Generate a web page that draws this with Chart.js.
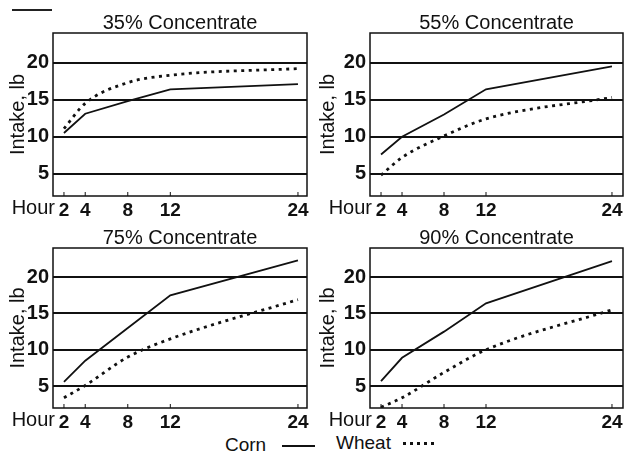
<!DOCTYPE html>
<html>
<head>
<meta charset="utf-8">
<script src="https://cdn.jsdelivr.net/npm/chart.js@4.4.1/dist/chart.umd.min.js"></script>
<style>
    html, body { margin: 0; padding: 0; background: #fff; }
    body {
        width: 624px; height: 454px; overflow: hidden; position: relative;
        font-family: "Liberation Sans", Arial, sans-serif; color: #111;
    }
    canvas { position: absolute; }
    .scrap { position: absolute; left: 12px; top: 9px; width: 40px; height: 1.5px; background: #222; }
    .key { position: absolute; font-size: 19px; line-height: 19px; }
    .solid { position: absolute; height: 1.8px; background: #111; }
    .dots {
        position: absolute; height: 3px;
        background: repeating-linear-gradient(to right, #111 0 3px, transparent 3px 7px);
    }
</style>
</head>
<body>
<div class="scrap"></div>
<canvas id="c35" width="312" height="218" style="left:0;top:0"></canvas>
<canvas id="c55" width="320" height="218" style="left:312px;top:0"></canvas>
<canvas id="c75" width="312" height="215" style="left:0;top:215px"></canvas>
<canvas id="c90" width="320" height="215" style="left:312px;top:215px"></canvas>

<span class="key" style="left:225px;top:435px">Corn</span>
<div class="solid" style="left:282px;top:445px;width:33px"></div>
<span class="key" style="left:336px;top:433px">Wheat</span>
<div class="dots" style="left:403px;top:442px;width:35px"></div>

<script>
// ---- data ----
const hours = [2, 4, 8, 12, 24];
const hourTicks = [2, 4, 8, 12, 24];
const intakeTicks = [5, 10, 15, 20];

const corn35 = [10.5, 13.1, 14.8, 16.4, 17.1];
const wheat35 = [11.1, 14.5, 17.3, 18.3, 19.2];

const corn55 = [7.6, 10.0, 13.0, 16.4, 19.5];
const wheat55 = [4.8, 7.2, 10.1, 12.4, 15.3];

const corn75 = [5.6, 8.5, 13.0, 17.5, 22.3];
const wheat75 = [3.4, 5.1, 9.0, 11.5, 16.9];

const corn90 = [5.7, 8.9, 12.5, 16.4, 22.2];
const wheat90 = [2.1, 3.4, 6.9, 10.0, 15.5];

const FONT = '"Liberation Sans", Arial, sans-serif';
const INK = "#111";

/* ------------------- frame, inner ticks, "Hour" ------------------ */
const framePlugin = {
    id: "frame",
    afterDatasetsDraw(chart) {
        const { ctx, chartArea: a, scales } = chart;
        ctx.save();
        ctx.strokeStyle = INK;
        ctx.lineWidth = 1.5;
        ctx.strokeRect(a.left, a.top, a.right - a.left, a.bottom - a.top);

        ctx.lineWidth = 1;
        hourTicks.forEach(h => {
            const x = scales.x.getPixelForValue(h);
            ctx.beginPath();
            ctx.moveTo(x, a.bottom);
            ctx.lineTo(x, a.bottom - 4);
            ctx.stroke();
        });

        ctx.fillStyle = INK;
        ctx.font = "20px " + FONT;
        ctx.textAlign = "right";
        ctx.textBaseline = "middle";
        ctx.fillText("Hour", a.left + 2, a.bottom + 12);
        ctx.restore();
    }
};

function makePanel(id, title, corn, wheat, yWidth, yTitlePad, padRight, xMin, xMax) {
    return new Chart(document.getElementById(id), {
        type: "line",
        data: {
            datasets: [
                {
                    label: "Corn",
                    data: hours.map((h, i) => ({ x: h, y: corn[i] })),
                    borderColor: INK,
                    borderWidth: 1.8,
                    pointRadius: 0,
                    tension: 0
                },
                {
                    label: "Wheat",
                    data: hours.map((h, i) => ({ x: h, y: wheat[i] })),
                    borderColor: INK,
                    borderWidth: 2.8,
                    borderDash: [3, 4.5],
                    pointRadius: 0,
                    cubicInterpolationMode: "monotone"
                }
            ]
        },
        options: {
            responsive: false,
            animation: false,
            layout: { padding: { left: 0, right: padRight, top: 0, bottom: 0 } },
            plugins: {
                legend: { display: false },
                tooltip: { enabled: false },
                title: {
                    display: true,
                    fullSize: false,
                    text: title,
                    color: INK,
                    font: { family: FONT, size: 20, weight: "normal", lineHeight: 1 },
                    padding: { top: 13, bottom: 0 }
                }
            },
            scales: {
                x: {
                    type: "linear",
                    min: xMin,
                    max: xMax,
                    afterBuildTicks: s => { s.ticks = hourTicks.map(v => ({ value: v })); },
                    afterFit: s => { s.height = 22; },
                    grid: { display: false },
                    border: { display: false },
                    ticks: {
                        color: INK,
                        padding: -5,
                        maxRotation: 0,
                        autoSkip: false,
                        font: { family: FONT, size: 19, weight: "bold" }
                    }
                },
                y: {
                    min: 2,
                    max: 24,
                    afterBuildTicks: s => { s.ticks = intakeTicks.map(v => ({ value: v })); },
                    afterFit: s => { s.width = yWidth; },
                    grid: { color: INK, lineWidth: 2, drawTicks: false },
                    border: { display: false },
                    ticks: {
                        color: INK,
                        padding: 4,
                        font: { family: FONT, size: 20, weight: "bold" }
                    },
                    title: {
                        display: true,
                        text: "Intake, lb",
                        color: INK,
                        font: { family: FONT, size: 20, weight: "normal" },
                        padding: { top: yTitlePad, bottom: 0 }
                    }
                }
            }
        },
        plugins: [framePlugin]
    });
}

makePanel("c35", "35% Concentrate", corn35, wheat35, 53, 6, 5, 0.97, 24.85);
makePanel("c55", "55% Concentrate", corn55, wheat55, 58, 4, 9, 0.95, 25.05);
makePanel("c75", "75% Concentrate", corn75, wheat75, 53, 6, 5, 0.97, 24.85);
makePanel("c90", "90% Concentrate", corn90, wheat90, 58, 4, 9, 0.95, 25.05);
</script>
</body>
</html>
